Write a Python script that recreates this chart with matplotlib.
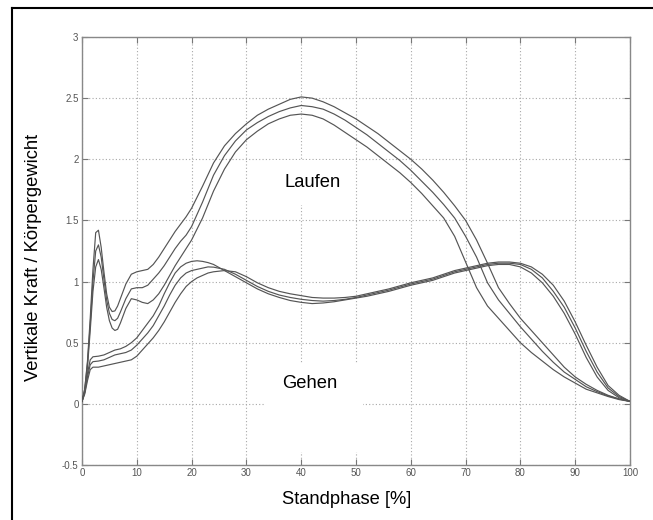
import matplotlib
matplotlib.use("Agg")
import matplotlib.pyplot as plt
from matplotlib.patches import Rectangle
from matplotlib.lines import Line2D

plt.rcParams['font.family'] = ['Liberation Sans', 'DejaVu Sans']

# ---------------- data ----------------
x_run = [0, 0.5, 1, 1.5, 2, 2.5, 3, 3.5, 4, 4.5, 5, 5.5, 6, 6.5, 7, 8, 9, 10, 11, 12,
         13, 14, 15, 16, 17, 18, 19, 20, 22, 24, 26, 28, 30, 32, 34, 36, 38, 40, 42,
         44, 46, 48, 50, 52, 54, 56, 58, 60, 62, 64, 66, 68, 70, 72, 74, 76, 78, 80,
         82, 84, 86, 88, 90, 92, 94, 96, 98, 100]

run_top = [0.02, 0.12, 0.35, 0.7, 1.1, 1.4, 1.42, 1.28, 1.08, 0.9, 0.79, 0.755, 0.76, 0.8,
           0.86, 0.98, 1.06, 1.08, 1.09, 1.1, 1.14, 1.2, 1.27, 1.34, 1.41, 1.47, 1.53,
           1.6, 1.78, 1.97, 2.11, 2.21, 2.29, 2.36, 2.41, 2.45, 2.49, 2.51, 2.5, 2.47,
           2.43, 2.38, 2.33, 2.27, 2.21, 2.14, 2.07, 2.0, 1.92, 1.83, 1.73, 1.62, 1.5,
           1.34, 1.15, 0.95, 0.82, 0.7, 0.6, 0.5, 0.4, 0.3, 0.22, 0.16, 0.11, 0.07,
           0.04, 0.02]

run_mid = [0.02, 0.12, 0.33, 0.65, 1.0, 1.25, 1.3, 1.2, 1.02, 0.85, 0.74, 0.69, 0.68, 0.7,
           0.75, 0.86, 0.94, 0.95, 0.95, 0.97, 1.02, 1.07, 1.13, 1.2, 1.27, 1.33, 1.38,
           1.45, 1.65, 1.87, 2.03, 2.15, 2.24, 2.3, 2.35, 2.39, 2.42, 2.44, 2.43, 2.41,
           2.37, 2.32, 2.26, 2.2, 2.13, 2.06, 1.99, 1.91, 1.82, 1.73, 1.63, 1.52, 1.37,
           1.2, 0.99, 0.85, 0.74, 0.63, 0.53, 0.43, 0.34, 0.26, 0.2, 0.14, 0.1, 0.065,
           0.04, 0.02]

run_low = [0.02, 0.1, 0.3, 0.6, 0.92, 1.12, 1.18, 1.1, 0.95, 0.79, 0.68, 0.62, 0.6, 0.61,
           0.66, 0.78, 0.86, 0.85, 0.83, 0.82, 0.85, 0.9, 0.97, 1.05, 1.13, 1.2, 1.27,
           1.34, 1.52, 1.74, 1.92, 2.06, 2.16, 2.23, 2.29, 2.33, 2.36, 2.37, 2.36, 2.33,
           2.28, 2.22, 2.16, 2.1, 2.03, 1.96, 1.89, 1.81, 1.72, 1.62, 1.52, 1.37, 1.16,
           0.95, 0.8, 0.7, 0.6, 0.5, 0.42, 0.35, 0.28, 0.22, 0.17, 0.12, 0.09, 0.06,
           0.035, 0.02]

x_walk = [0, 0.5, 1, 1.5, 2, 3, 4, 5, 6, 7, 8, 9, 10, 11, 12, 13, 14, 15, 16, 17, 18,
          19, 20, 21, 22, 23, 24, 26, 28, 30, 32, 34, 36, 38, 40, 42, 44, 46, 48, 50,
          52, 54, 56, 58, 60, 62, 64, 66, 68, 70, 72, 74, 76, 78, 80, 82, 84, 86, 88,
          90, 92, 94, 96, 98, 100]

walk_a = [0.02, 0.1, 0.25, 0.36, 0.385, 0.39, 0.4, 0.42, 0.44, 0.45, 0.47, 0.5, 0.54,
          0.6, 0.66, 0.72, 0.8, 0.9, 0.99, 1.07, 1.12, 1.15, 1.165, 1.17, 1.165, 1.155,
          1.14, 1.09, 1.04, 0.99, 0.94, 0.9, 0.87, 0.845, 0.83, 0.82, 0.825, 0.835,
          0.85, 0.865, 0.88, 0.9, 0.92, 0.945, 0.97, 0.99, 1.01, 1.04, 1.07, 1.09,
          1.11, 1.13, 1.14, 1.14, 1.12, 1.07, 0.99, 0.88, 0.74, 0.57, 0.38, 0.22,
          0.11, 0.05, 0.02]

walk_b = [0.02, 0.09, 0.22, 0.32, 0.345, 0.35, 0.36, 0.38, 0.4, 0.41, 0.42, 0.44, 0.48,
          0.53, 0.58, 0.64, 0.72, 0.8, 0.89, 0.97, 1.03, 1.07, 1.09, 1.1, 1.11, 1.12,
          1.118, 1.1, 1.06, 1.01, 0.96, 0.92, 0.89, 0.87, 0.855, 0.845, 0.84, 0.845,
          0.855, 0.87, 0.89, 0.91, 0.93, 0.955, 0.98, 1.0, 1.02, 1.05, 1.08, 1.1,
          1.12, 1.14, 1.15, 1.15, 1.14, 1.1, 1.03, 0.92, 0.79, 0.62, 0.43, 0.26,
          0.13, 0.06, 0.02]

walk_c = [0.02, 0.08, 0.19, 0.28, 0.3, 0.3, 0.31, 0.32, 0.33, 0.34, 0.35, 0.36, 0.39,
          0.44, 0.49, 0.54, 0.6, 0.67, 0.75, 0.83, 0.9, 0.96, 1.0, 1.03, 1.05, 1.07,
          1.08, 1.09, 1.08, 1.04, 0.99, 0.95, 0.92, 0.9, 0.885, 0.87, 0.865, 0.865,
          0.87, 0.88, 0.9, 0.92, 0.94, 0.965, 0.99, 1.01, 1.03, 1.06, 1.09, 1.11,
          1.13, 1.15, 1.16, 1.16, 1.15, 1.12, 1.06, 0.97, 0.84, 0.67, 0.48, 0.3,
          0.15, 0.07, 0.02]

x_ticks = [0, 10, 20, 30, 40, 50, 60, 70, 80, 90, 100]
y_ticks = [-0.5, 0, 0.5, 1, 1.5, 2, 2.5, 3]
y_tick_labels = ['-0.5', '0', '0.5', '1', '1.5', '2', '2.5', '3']
label_run = 'Laufen'
label_walk = 'Gehen'
xlabel = 'Standphase [%]'
ylabel = 'Vertikale Kraft / Körpergewicht'

# ---------------- figure ----------------
W, H = 653, 520
fig = plt.figure(figsize=(W / 100, H / 100), dpi=100)
fig.patch.set_facecolor('white')

# outer frame
fig.add_artist(Line2D([12 / W, 12 / W], [0, 1 - 8 / H], transform=fig.transFigure,
                      color='black', lw=1.5))
fig.add_artist(Line2D([12 / W, 1], [1 - 8 / H, 1 - 8 / H], transform=fig.transFigure,
                      color='black', lw=1.5))

ax_l, ax_r, ax_t, ax_b = 82, 630, 37, 465
ax = fig.add_axes([ax_l / W, (H - ax_b) / H, (ax_r - ax_l) / W, (ax_b - ax_t) / H])
ax.set_xlim(0, 100)
ax.set_ylim(-0.5, 3)
ax.set_axisbelow(True)
ax.grid(True, color='#a8a8a8', linestyle=(0, (1, 2)), linewidth=0.8)

line_kw = dict(color='#555555', linewidth=0.85, zorder=3)
for ys in (run_top, run_mid, run_low):
    ax.plot(x_run, ys, **line_kw)
for ys in (walk_a, walk_b, walk_c):
    ax.plot(x_walk, ys, **line_kw)

FS = 13.2
ax.text(42, 1.81, label_run, fontsize=FS, ha='center', va='center', color='black',
        zorder=4, bbox=dict(facecolor='white', edgecolor='none', pad=10))
ax.text(41.6, 0.17, label_walk, fontsize=FS, ha='center', va='center', color='black',
        zorder=4)
# gap in the grid around "Gehen" (display pixels, origin bottom-left)
ax.add_patch(Rectangle((265, H - 452), 98, 89, transform=None, facecolor='white',
                       edgecolor='none', zorder=1))

ax.set_xticks(x_ticks)
ax.set_yticks(y_ticks)
ax.set_yticklabels(y_tick_labels)
ax.tick_params(direction='in', length=4, width=0.8, colors='#777777',
               labelcolor='#555555', labelsize=7, top=True, right=True, pad=2.5)
for s in ax.spines.values():
    s.set_color('#888888')
    s.set_linewidth(1.0)

ax.set_xlabel(xlabel, fontsize=FS)
ax.set_ylabel(ylabel, fontsize=FS)
ax.xaxis.label.set_va('center')
ax.yaxis.label.set_va('center')
ax.xaxis.set_label_coords((347 - ax_l) / (ax_r - ax_l), (ax_b - 500) / (ax_b - ax_t))
ax.yaxis.set_label_coords((34 - ax_l) / (ax_r - ax_l), (ax_b - 257) / (ax_b - ax_t))

fig.savefig('out.png', dpi=100)
